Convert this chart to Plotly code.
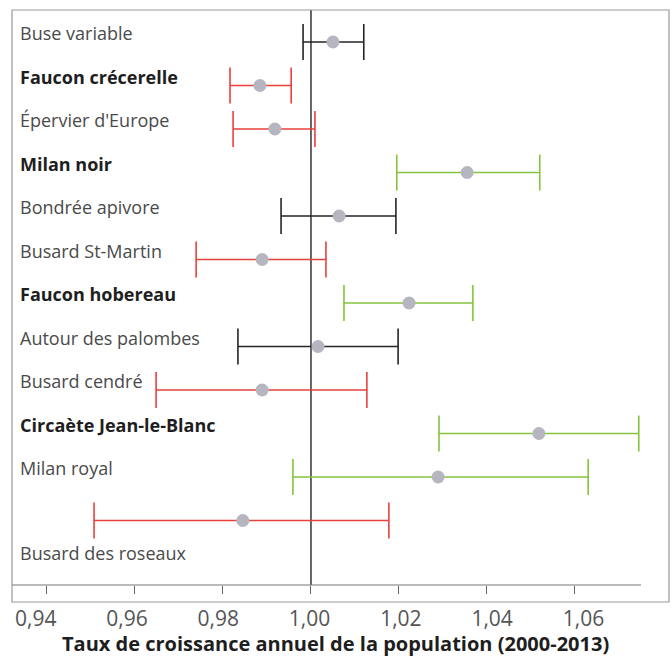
import plotly.graph_objects as go

species = ["Buse variable", "Faucon crécerelle", "Épervier d'Europe", "Milan noir",
           "Bondrée apivore", "Busard St-Martin", "Faucon hobereau", "Autour des palombes",
           "Busard cendré", "Circaète Jean-le-Blanc", "Milan royal", "Busard des roseaux"]
bold = [False, True, False, True, False, False, True, False, False, True, False, False]
groups = ["black", "red", "red", "green", "black", "red", "green", "black", "red", "green", "green", "red"]
estimate = [1.005, 0.9884, 0.9918, 1.0355, 1.0064, 0.9889, 1.0223, 1.0016, 0.9889, 1.0518, 1.0289, 0.9845]
lower = [0.9982, 0.9816, 0.9823, 1.0195, 0.9932, 0.9739, 1.0075, 0.9834, 0.9648, 1.0291, 0.9959, 0.9507]
upper = [1.012, 0.9955, 1.0009, 1.052, 1.0193, 1.0034, 1.0368, 1.0198, 1.0127, 1.0745, 1.063, 1.0177]
tick_vals = [0.94, 0.96, 0.98, 1.00, 1.02, 1.04, 1.06]
tick_text = ["0,94", "0,96", "0,98", "1,00", "1,02", "1,04", "1,06"]
x_title = "Taux de croissance annuel de la population (2000-2013)"

colors = {"black": "#262626", "red": "#e8413d", "green": "#86c440"}
FONT = "Open Sans"

fig = go.Figure()
for g in ["black", "red", "green"]:
    idx = [i for i, gg in enumerate(groups) if gg == g]
    fig.add_trace(go.Scatter(
        x=[estimate[i] for i in idx],
        y=[i for i in idx],
        mode="markers",
        marker=dict(size=13, color="#b6b6c0"),
        error_x=dict(type="data", symmetric=False,
                     array=[upper[i] - estimate[i] for i in idx],
                     arrayminus=[estimate[i] - lower[i] for i in idx],
                     color=colors[g], thickness=1.6, width=18),
        showlegend=False, hoverinfo="skip"))

# invisible trace to activate the label axis
fig.add_trace(go.Scatter(x=[tick_vals[0]], y=[0], xaxis="x2", mode="markers",
                         marker=dict(opacity=0), showlegend=False, hoverinfo="skip"))

# labels
for i, (name, b) in enumerate(zip(species, bold)):
    yl = i - 0.2 if i < len(species) - 1 else i + 0.75
    fig.add_annotation(x=0.009, xref="paper", y=yl, yref="y", xanchor="left", yanchor="middle",
                       text=f"<b>{name}</b>" if b else name, showarrow=False,
                       font=dict(family=FONT, size=18, color="#1e1e1e" if b else "#4a4a4a"))

# reference line at 1.00
fig.add_shape(type="line", x0=1.0, x1=1.0, xref="x", y0=0, y1=1, yref="paper",
              line=dict(color="#333333", width=1.5), layer="below")
# axis line
fig.add_shape(type="line", x0=0, x1=(641 - 12) / 657, xref="paper", y0=0, y1=0, yref="paper",
              line=dict(color="#777777", width=1.2))
# outer frame
fig.add_shape(type="rect", x0=0, x1=1, xref="paper", y0=-17 / 575, y1=1, yref="paper",
              line=dict(color="#9a9a9a", width=1.2))

fig.add_annotation(x=0.493, xref="paper", y=-58 / 575, yref="paper", xanchor="center", yanchor="middle",
                   text=f"<b>{x_title}</b>", showarrow=False,
                   font=dict(family=FONT, size=20, color="#1e1e1e"))

fig.update_layout(
    width=672, height=661,
    margin=dict(l=12, r=3, t=10, b=76),
    paper_bgcolor="white", plot_bgcolor="white",
    xaxis=dict(range=[0.93205, 1.08137], tickvals=tick_vals, showticklabels=False,
               ticks="outside", ticklen=8, tickcolor="#666666", tickwidth=1.2,
               showgrid=False, zeroline=False, showline=False),
    xaxis2=dict(range=[0.93479, 1.07875], overlaying="x", side="bottom", anchor="y",
                tickvals=tick_vals, ticktext=tick_text, ticks="",
                showgrid=False, zeroline=False, showline=False,
                ticklabelstandoff=19,
                tickfont=dict(family=FONT, size=21, color="#555555")),
    yaxis=dict(range=[12.483, -0.7356], showticklabels=False, showgrid=False,
               zeroline=False, ticks=""),
)

fig.write_html("out.html", config={"displayModeBar": False},
               post_script="document.body.style.margin='0';")
